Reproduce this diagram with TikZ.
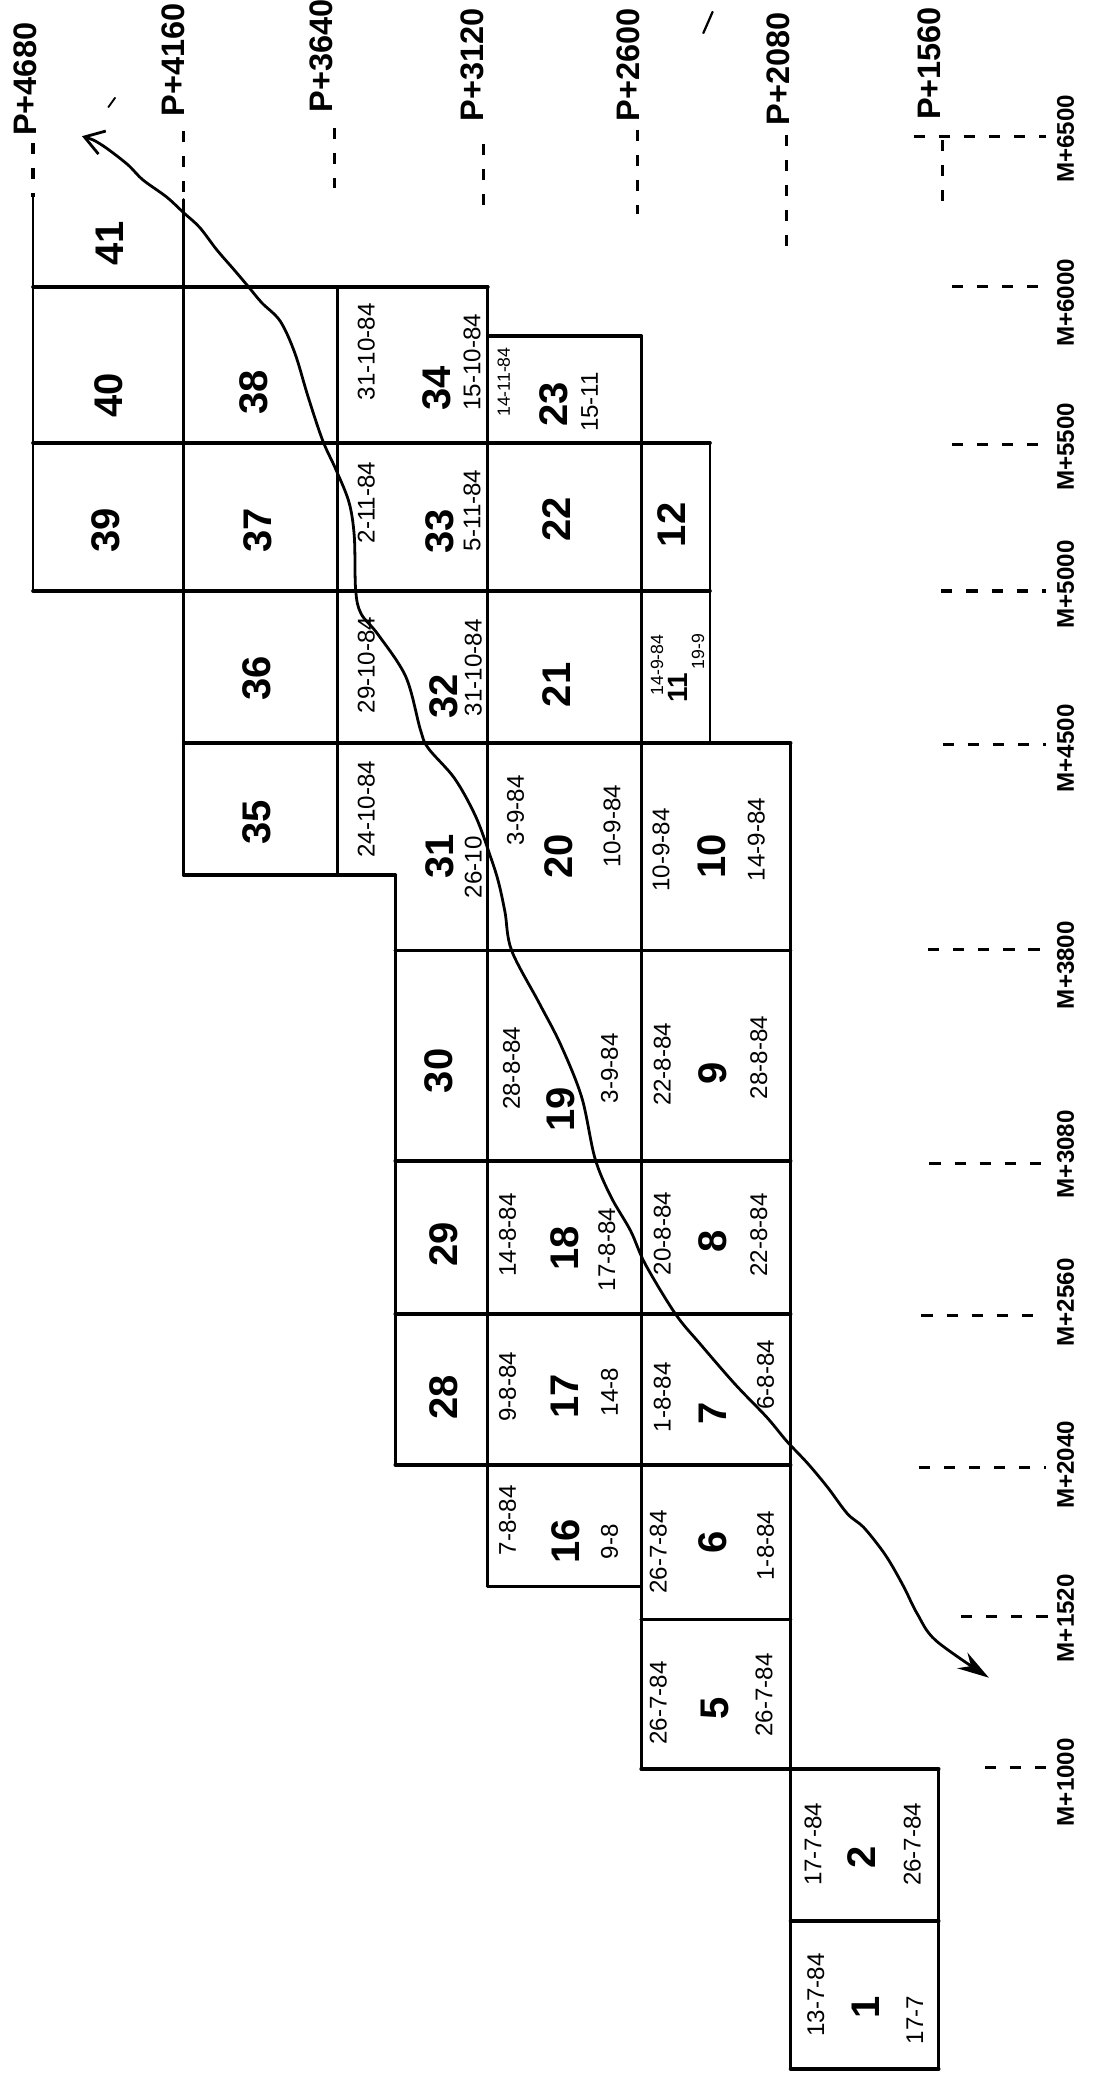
\documentclass[tikz,border=0pt]{standalone}
\usepackage{fontspec}
\setmainfont{Liberation Sans}
\usetikzlibrary{arrows.meta}
\begin{document}
\begin{tikzpicture}[x=0.05cm,y=-0.05cm,
  hline/.style={line width=4pt,line cap=round},
  vline/.style={line width=3pt,line cap=round},
  leader/.style={line width=3.4pt,dash pattern=on 12pt off 15pt},
  big/.style={rotate=90,inner sep=0pt,font=\fontsize{43}{45}\selectfont\bfseries},
  mid/.style={rotate=90,inner sep=0pt,font=\fontsize{30}{32}\selectfont\bfseries},
  date/.style={rotate=90,inner sep=0pt,font=\fontsize{26}{28}\selectfont},
  sdate/.style={rotate=90,inner sep=0pt,font=\fontsize{19}{21}\selectfont},
  plab/.style={rotate=90,inner sep=0pt,font=\fontsize{35}{37}\selectfont\bfseries},
  mlab/.style={rotate=90,inner sep=0pt,font=\fontsize{26}{28}\selectfont\bfseries},
  route/.style={line width=3pt,line join=round,{Straight Barb[length=20pt,width=26pt,line width=3pt]}-{Stealth[length=34pt,width=20pt]}}
]
\useasboundingbox (0,0) rectangle (831,1568);

% ---------- grid: horizontal lines ----------
\draw[hline] (25,217) -- (369,217);
\draw[hline] (369,254) -- (485,254);
\draw[hline] (25,335) -- (537,335);
\draw[hline] (25,447) -- (537,447);
\draw[hline] (139,562) -- (598,562);
\draw[hline] (139,662) -- (299,662);
\draw[hline] (299,719) -- (598,719);
\draw[hline] (299,878) -- (598,878);
\draw[hline] (299,994) -- (598,994);
\draw[hline] (299,1108) -- (598,1108);
\draw[hline] (369,1200) -- (485,1200);
\draw[hline] (485,1225) -- (598,1225);
\draw[hline] (485,1338) -- (710,1338);
\draw[hline] (598,1453) -- (710,1453);
\draw[hline] (598,1565) -- (710,1565);
% ---------- grid: vertical lines ----------
\draw[vline] (25,149) -- (25,447);
\draw[vline] (139,151) -- (139,662);
\draw[vline] (255,217) -- (255,662);
\draw[vline] (299,662) -- (299,1108);
\draw[vline] (369,217) -- (369,1200);
\draw[vline] (485,254) -- (485,1338);
\draw[vline] (537,335) -- (537,562);
\draw[vline] (598,562) -- (598,1565);
\draw[vline] (710,1338) -- (710,1565);

% ---------- P labels with vertical leaders ----------
\node[plab] (p4680) at (19,60) {P+4680};
\node[plab] (p4160) at (131,45) {P+4160};
\node[plab] (p3640) at (243,42) {P+3640};
\node[plab] (p3120) at (357,49) {P+3120};
\node[plab] (p2600) at (475,49) {P+2600};
\node[plab] (p2080) at (589,52) {P+2080};
\node[plab] (p1560) at (703,48) {P+1560};
\draw[leader] (25,108) -- (25,149);
\draw[leader] (139,99) -- (139,151);
\draw[leader] (253,97) -- (253,142);
\draw[leader] (366,109) -- (366,158);
\draw[leader] (482,98) -- (482,162);
\draw[leader] (595,102) -- (595,188);
\draw[leader] (713,106) -- (713,160);

% ---------- M labels with horizontal leaders ----------
\node[mlab] (m6500) at (806,105) {M+6500};
\node[mlab] (m6000) at (806,229) {M+6000};
\node[mlab] (m5500) at (806,338) {M+5500};
\node[mlab] (m5000) at (806,442) {M+5000};
\node[mlab] (m4500) at (806,566) {M+4500};
\node[mlab] (m3800) at (806,730) {M+3800};
\node[mlab] (m3080) at (806,873) {M+3080};
\node[mlab] (m2560) at (806,985) {M+2560};
\node[mlab] (m2040) at (806,1108) {M+2040};
\node[mlab] (m1520) at (806,1224) {M+1520};
\node[mlab] (m1000) at (806,1348) {M+1000};
\draw[leader] (691,103) -- (791,103);
\draw[leader] (720,217) -- (791,217);
\draw[leader] (720,336) -- (791,336);
\draw[leader] (712,447) -- (791,447);
\draw[leader] (713,563) -- (791,563);
\draw[leader] (702,718) -- (791,718);
\draw[leader] (703,880) -- (791,880);
\draw[leader] (697,995) -- (791,995);
\draw[leader] (695,1110) -- (791,1110);
\draw[leader] (727,1223) -- (793,1223);
\draw[leader] (745,1337) -- (793,1337);

% ---------- cell contents ----------
\node[big] (n41) at (83,184) {41};
\node[big] (n40) at (82,299) {40};
\node[big] (n38) at (192,297) {38};
\node[date] (d34a) at (277,266) {31-10-84};
\node[big] (n34) at (330,294) {34};
\node[date] (d34b) at (357,274) {15-10-84};
\node[sdate] (d23a) at (381,289) {14-11-84};
\node[big] (n23) at (419,306) {23};
\node[date] (d23b) at (446,304) {15-11};
\node[big] (n39) at (80,401) {39};
\node[big] (n37) at (195,401) {37};
\node[date] (d33a) at (277,380) {2-11-84};
\node[big] (n33) at (333,402) {33};
\node[date] (d33b) at (357,386) {5-11-84};
\node[big] (n22) at (421,393) {22};
\node[big] (n12) at (508,397) {12};
\node[big] (n36) at (194,513) {36};
\node[date] (d32a) at (277,503) {29-10-84};
\node[big] (n32) at (336,527) {32};
\node[date] (d32b) at (358,505) {31-10-84};
\node[big] (n21) at (421,518) {21};
\node[sdate] (d11a) at (497,503) {14-9-84};
\node[mid] (n11) at (513,520) {11};
\node[sdate] (d11b) at (528,493) {19-9};
\node[big] (n35) at (194,622) {35};
\node[date] (d31a) at (277,612) {24-10-84};
\node[big] (n31) at (333,648) {31};
\node[date] (d31b) at (358,656) {26-10};
\node[date] (d20a) at (390,613) {3-9-84};
\node[big] (n20) at (423,648) {20};
\node[date] (d20b) at (463,625) {10-9-84};
\node[date] (d10a) at (500,643) {10-9-84};
\node[big] (n10) at (538,648) {10};
\node[date] (d10b) at (572,635) {14-9-84};
\node[big] (n30) at (332,810) {30};
\node[date] (d19a) at (387,808) {28-8-84};
\node[big] (n19) at (424,839) {19};
\node[date] (d19b) at (461,808) {3-9-84};
\node[date] (d9a) at (501,805) {22-8-84};
\node[big] (n9) at (539,812) {9};
\node[date] (d9b) at (574,800) {28-8-84};
\node[big] (n29) at (336,941) {29};
\node[date] (d18a) at (384,934) {14-8-84};
\node[big] (n18) at (427,944) {18};
\node[date] (d18b) at (459,945) {17-8-84};
\node[date] (d8a) at (501,933) {20-8-84};
\node[big] (n8) at (539,939) {8};
\node[date] (d8b) at (574,934) {22-8-84};
\node[big] (n28) at (336,1057) {28};
\node[date] (d17a) at (384,1049) {9-8-84};
\node[big] (n17) at (427,1056) {17};
\node[date] (d17b) at (461,1053) {14-8};
\node[date] (d7a) at (501,1057) {1-8-84};
\node[big] (n7) at (539,1069) {7};
\node[date] (d7b) at (579,1040) {6-8-84};
\node[date] (d16a) at (384,1150) {7-8-84};
\node[big] (n16) at (428,1166) {16};
\node[date] (d16b) at (461,1166) {9-8};
\node[date] (d6a) at (498,1174) {26-7-84};
\node[big] (n6) at (539,1167) {6};
\node[date] (d6b) at (579,1169) {1-8-84};
\node[date] (d5a) at (498,1288) {26-7-84};
\node[big] (n5) at (541,1292) {5};
\node[date] (d5b) at (578,1282) {26-7-84};
\node[date] (d2a) at (615,1395) {17-7-84};
\node[big] (n2) at (652,1405) {2};
\node[date] (d2b) at (690,1395) {26-7-84};
\node[date] (d1a) at (617,1509) {13-7-84};
\node[big] (n1) at (655,1518) {1};
\node[date] (d1b) at (692,1528) {17-7};

% ---------- progress curve ----------
\coordinate (start) at (62,103);
\coordinate (finish) at (748,1269);
\draw[route] plot[smooth,tension=0.55] coordinates {
 (62,103) (76,109) (96,124) (108,136) (126,149) (139,161) (151,172)
 (164,189) (177,204) (188,217) (198,229) (212,243) (223,267) (233,300)
 (244,333) (254,355) (264,380) (268,406) (269,446) (273,464) (286,480)
 (307,512) (318,552) (324,566) (344,589) (360,618) (371,648) (377,667)
 (382,690) (387,719) (408,759) (424,790) (440,830) (450,876) (462,905)
 (477,931) (488,956) (511,994) (530,1017) (556,1047) (580,1072)
 (595,1090) (611,1107) (626,1125) (641,1145) (653,1155) (666,1171)
 (674,1183) (684,1201) (694,1221) (708,1241) (748,1269)};

% ---------- stray pen marks ----------
\draw[line width=2pt,line cap=round] (82,81) -- (87,74);
\draw[line width=2.4pt,line cap=round] (532,25) -- (539,9);
\end{tikzpicture}
\end{document}
